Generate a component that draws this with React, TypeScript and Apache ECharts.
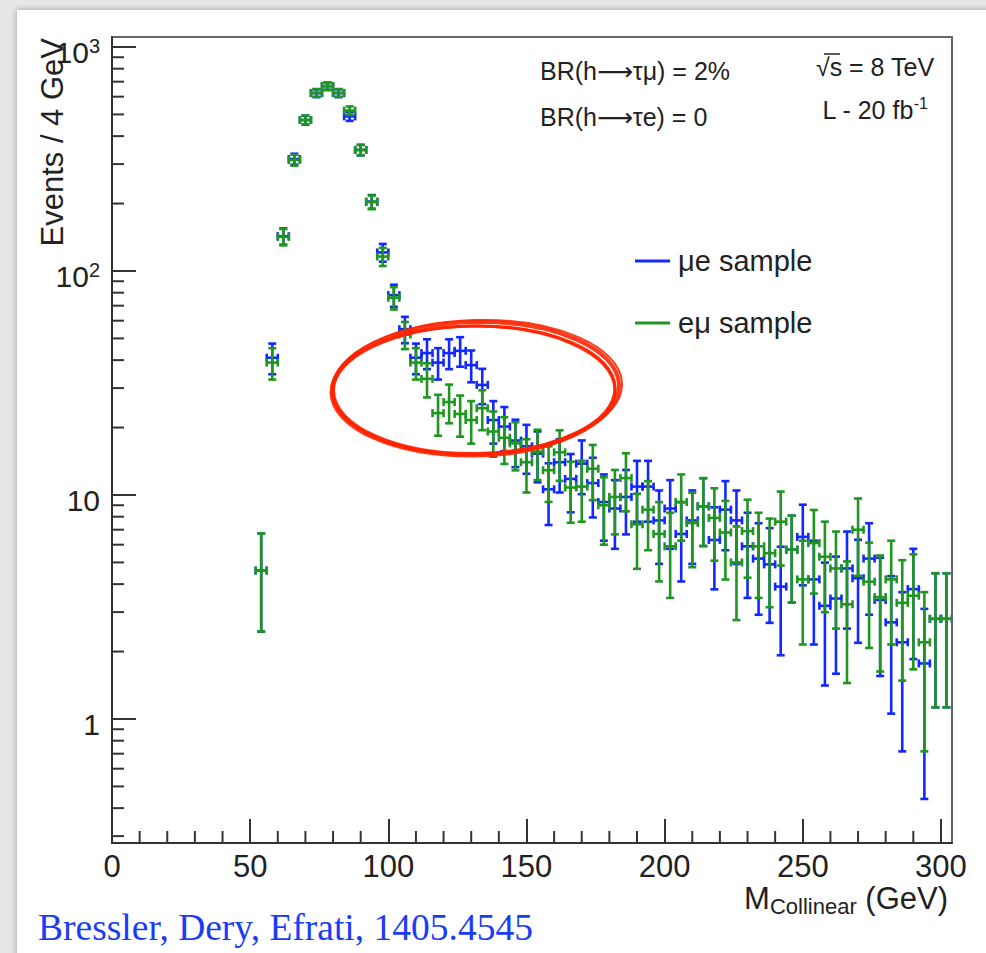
import React, { useEffect, useRef } from 'react';
import * as echarts from 'echarts';

// ---- data (bin centres in GeV, 4 GeV bins) ----
const BIN_HALF_WIDTH = 2;
const BIN_CENTERS = [
  54, 58, 62, 66, 70, 74, 78, 82, 86, 90, 94, 98, 102, 106, 110, 114, 118, 122, 126, 130,
  134, 138, 142, 146, 150, 154, 158, 162, 166, 170, 174, 178, 182, 186, 190, 194, 198, 202,
  206, 210, 214, 218, 222, 226, 230, 234, 238, 242, 246, 250, 254, 258, 262, 266, 270, 274,
  278, 282, 286, 290, 294, 298, 302,
];
// μe sample (blue)
const MU_E = [
  4.6, 41, 143, 316, 472, 622, 668, 622, 490, 347, 204, 121, 78, 55, 41, 43, 39, 43, 44, 38,
  31, 21.6, 20.2, 17.5, 16.5, 15.3, 10.6, 14.0, 11.8, 13.8, 11.3, 9.3, 8.7, 9.8, 10.9, 10.9, 7.7, 8.7,
  6.7, 7.7, 8.9, 6.3, 8.6, 7.7, 5.9, 5.2, 4.9, 3.9, 5.7, 6.5, 4.2, 3.2, 3.45, 4.7, 4.25, 5.2,
  3.4, 2.7, 2.2, 3.8, 1.77, 2.8, 2.8,
];
// eμ sample (green)
const E_MU = [
  4.6, 39, 142, 313, 472, 624, 670, 624, 520, 347, 203, 116, 76, 52, 39, 33, 23.2, 26, 23, 21.6,
  24.4, 19.2, 18, 17, 14, 15.6, 12.9, 15.5, 10.8, 10.9, 13.1, 9.0, 9.8, 11.9, 7.4, 8.6, 6.7, 5.9,
  9.3, 7.5, 8.9, 7.9, 6.8, 5.0, 6.9, 5.9, 5.5, 7.6, 5.7, 4.2, 6.1, 5.3, 4.7, 3.25, 7.0, 4.1,
  3.5, 4.2, 3.3, 3.55, 2.2, 2.8, 2.8,
];
const SERIES_NAMES = ['μe sample', 'eμ sample'];

// ---- axes ----
const X_MIN = 0;
const X_MAX = 304;
const X_INTERVAL = 50;
const X_MINOR_TICKS = [
  10, 20, 30, 40, 60, 70, 80, 90, 110, 120, 130, 140, 160, 170, 180, 190, 210, 220, 230, 240,
  260, 270, 280, 290,
];
const Y_MIN = 0.2795;
const Y_MAX = 1108;
const Y_MINOR_TICKS = [
  0.3, 0.4, 0.5, 0.6, 0.7, 0.8, 0.9, 2, 3, 4, 5, 6, 7, 8, 9, 20, 30, 40, 50, 60, 70, 80, 90,
  200, 300, 400, 500, 600, 700, 800, 900,
];

const BLUE = '#1228ff';
const GREEN = '#1f961f';
const AXIS = '#333333';
const TEXT = '#222222';
const SANS = '"Liberation Sans", Arial, Helvetica, sans-serif';
const ARROW_FONT = '"DejaVu Sans", "Liberation Sans", sans-serif';

function errorBarRenderer(color: string) {
  return (params: any, api: any) => {
    const x = api.value(0);
    const y = api.value(1);
    const e = api.value(2);
    const c = api.coord([x, y]);
    const l = api.coord([x - BIN_HALF_WIDTH, y]);
    const r = api.coord([x + BIN_HALF_WIDTH, y]);
    const t = api.coord([x, y + e]);
    const b = api.coord([x, Math.max(y - e, Y_MIN)]);
    const cap = 4;
    const style = { stroke: color, lineWidth: 2.6 };
    return {
      type: 'group',
      children: [
        { type: 'line', shape: { x1: c[0], y1: t[1], x2: c[0], y2: b[1] }, style },
        { type: 'line', shape: { x1: l[0], y1: c[1], x2: r[0], y2: c[1] }, style },
        { type: 'line', shape: { x1: c[0] - cap, y1: t[1], x2: c[0] + cap, y2: t[1] }, style },
        { type: 'line', shape: { x1: c[0] - cap, y1: b[1], x2: c[0] + cap, y2: b[1] }, style },
        { type: 'line', shape: { x1: l[0], y1: c[1] - cap, x2: l[0], y2: c[1] + cap }, style },
        { type: 'line', shape: { x1: r[0], y1: c[1] - cap, x2: r[0], y2: c[1] + cap }, style },
      ],
    };
  };
}

export default function App() {
  const ref = useRef<HTMLDivElement>(null);
  useEffect(() => {
    if (!ref.current) return;
    const chart = echarts.init(ref.current, null, { renderer: 'svg' });

    const blueData = BIN_CENTERS.map((x, i) => [x, MU_E[i], Math.sqrt(MU_E[i])]);
    const greenData = BIN_CENTERS.map((x, i) => [x, E_MU[i], Math.sqrt(E_MU[i])]);

    const yFormatter = (v: number) => {
      const e = Math.round(Math.log10(v));
      if (e >= 2) return `{b|10}{s|${e}}`;
      return `{b|${Math.round(v)}}`;
    };

    const brRich = {
      t: { fontSize: 25, lineHeight: 30, fontFamily: SANS, fill: TEXT },
      a: { fontSize: 25, lineHeight: 30, fontFamily: ARROW_FONT, fill: TEXT },
    };

    const option: any = {
      animation: false,
      backgroundColor: '#e7e7e5',
      grid: {
        left: 112,
        top: 37,
        right: 34,
        bottom: 110,
        show: true,
        borderColor: '#666666',
        borderWidth: 2,
        outerBoundsMode: 'none',
        containLabel: false,
      },
      xAxis: {
        type: 'value',
        min: X_MIN,
        max: X_MAX,
        interval: X_INTERVAL,
        axisLine: { show: true, onZero: false, lineStyle: { color: AXIS, width: 2 } },
        axisTick: { show: true, inside: true, length: 24, lineStyle: { color: AXIS, width: 2 } },
        minorTick: { show: false },
        splitLine: { show: false },
        axisLabel: {
          showMaxLabel: false,
          showMinLabel: true,
          margin: 8,
          fontSize: 31,
          lineHeight: 31,
          fontFamily: SANS,
          color: TEXT,
        },
      },
      yAxis: {
        type: 'log',
        logBase: 10,
        min: Y_MIN,
        max: Y_MAX,
        axisLine: { show: true, onZero: false, lineStyle: { color: AXIS, width: 2 } },
        axisTick: { show: true, inside: true, length: 24, lineStyle: { color: AXIS, width: 2 } },
        minorTick: { show: false },
        splitLine: { show: false },
        axisLabel: {
          showMinLabel: false,
          showMaxLabel: false,
          margin: 12,
          formatter: yFormatter,
          padding: [12, 0, 0, 0],
          rich: {
            b: { fontSize: 30, lineHeight: 34, fontFamily: SANS, color: TEXT },
            s: { fontSize: 20, lineHeight: 20, verticalAlign: 'top', fontFamily: SANS, color: TEXT },
          },
        },
      },
      legend: {
        data: SERIES_NAMES,
        orient: 'vertical',
        left: 630,
        top: 240,
        icon: 'rect',
        itemWidth: 35,
        itemHeight: 3,
        itemGap: 30,
        selectedMode: false,
        textStyle: {
          fontSize: 29,
          lineHeight: 32,
          fontFamily: SANS,
          color: TEXT,
          padding: [0, 0, 0, 3],
        },
      },
      series: [
        {
          name: 'xMinorTicks',
          type: 'custom',
          silent: true,
          clip: false,
          data: X_MINOR_TICKS.map((v) => [v, Y_MIN]),
          encode: { x: 0, y: 1 },
          renderItem: (params: any, api: any) => {
            const p = api.coord([api.value(0), Y_MIN]);
            return {
              type: 'line',
              shape: { x1: p[0], y1: p[1], x2: p[0], y2: p[1] - 12 },
              style: { stroke: AXIS, lineWidth: 2 },
            };
          },
        },
        {
          name: 'yMinorTicks',
          type: 'custom',
          silent: true,
          clip: false,
          data: Y_MINOR_TICKS.map((v) => [X_MIN, v]),
          encode: { x: 0, y: 1 },
          renderItem: (params: any, api: any) => {
            const p = api.coord([X_MIN, api.value(1)]);
            return {
              type: 'line',
              shape: { x1: p[0], y1: p[1], x2: p[0] + 12, y2: p[1] },
              style: { stroke: AXIS, lineWidth: 2 },
            };
          },
        },
        {
          name: SERIES_NAMES[0],
          type: 'custom',
          clip: true,
          itemStyle: { color: BLUE },
          data: blueData,
          encode: { x: 0, y: 1 },
          renderItem: errorBarRenderer(BLUE),
          z: 3,
        },
        {
          name: SERIES_NAMES[1],
          type: 'custom',
          clip: true,
          itemStyle: { color: GREEN },
          data: greenData,
          encode: { x: 0, y: 1 },
          renderItem: errorBarRenderer(GREEN),
          z: 4,
        },
      ],
      graphic: [
        {
          type: 'rect',
          z: -10,
          silent: true,
          shape: { x: 17, y: 10, width: 975, height: 950 },
          style: { fill: '#ffffff', shadowBlur: 6, shadowColor: 'rgba(0,0,0,0.35)' },
        },
        {
          type: 'text',
          z: 10,
          x: 52,
          y: 38,
          rotation: Math.PI / 2,
          style: {
            text: 'Events / 4 GeV',
            font: `31px ${SANS}`,
            fill: TEXT,
            textAlign: 'right',
            textVerticalAlign: 'middle',
          },
        },
        {
          type: 'text',
          z: 10,
          x: 948,
          y: 898,
          style: {
            text: '{m|M}{sub|Collinear}{m| (GeV)}',
            textAlign: 'right',
            textVerticalAlign: 'middle',
            rich: {
              m: { fontSize: 31, lineHeight: 38, fontFamily: SANS, fill: TEXT },
              sub: { fontSize: 22, lineHeight: 16, verticalAlign: 'bottom', fontFamily: SANS, fill: TEXT },
            },
          },
        },
        {
          type: 'text',
          z: 10,
          x: 540,
          y: 71,
          style: {
            text: '{t|BR(h}{a|⟶}{t|τμ) = 2%}',
            textAlign: 'left',
            textVerticalAlign: 'middle',
            rich: brRich,
          },
        },
        {
          type: 'text',
          z: 10,
          x: 540,
          y: 117,
          style: {
            text: '{t|BR(h}{a|⟶}{t|τe) = 0}',
            textAlign: 'left',
            textVerticalAlign: 'middle',
            rich: brRich,
          },
        },
        {
          type: 'text',
          z: 10,
          x: 875,
          y: 67,
          style: {
            text: '√s = 8 TeV',
            font: `25px ${SANS}`,
            fill: TEXT,
            textAlign: 'center',
            textVerticalAlign: 'middle',
          },
        },
        {
          type: 'line',
          z: 10,
          shape: { x1: 824, y1: 54, x2: 840, y2: 54 },
          style: { stroke: TEXT, lineWidth: 1.5 },
        },
        {
          type: 'text',
          z: 10,
          x: 875,
          y: 110,
          style: {
            text: '{n|L - 20 fb}{s|-1}',
            textAlign: 'center',
            textVerticalAlign: 'middle',
            rich: {
              n: { fontSize: 25, lineHeight: 30, fontFamily: SANS, fill: TEXT },
              s: { fontSize: 16, lineHeight: 16, verticalAlign: 'top', fontFamily: SANS, fill: TEXT },
            },
          },
        },
        // hand-drawn red ellipse
        ...[
          { rx: 143, ry: 66, r: 0.02, w: 4, dx: 0, dy: 0 },
          { rx: 141, ry: 64, r: 0.015, w: 3, dx: -2, dy: 2 },
          { rx: 145, ry: 67, r: 0.025, w: 2, dx: 1, dy: -1 },
          { rx: 142, ry: 65, r: 0.01, w: 3, dx: -3, dy: 3 },
        ].map((e) => ({
          type: 'ellipse',
          z: 20,
          silent: true,
          x: 476 + e.dx,
          y: 388 + e.dy,
          rotation: e.r,
          shape: { cx: 0, cy: 0, rx: e.rx, ry: e.ry },
          style: { fill: 'none', stroke: '#ff2400', lineWidth: e.w, opacity: 0.9 },
        })),
        {
          type: 'text',
          z: 10,
          x: 38,
          y: 927,
          style: {
            text: 'Bressler, Dery, Efrati, 1405.4545',
            font: `37.5px "Liberation Serif", "Times New Roman", serif`,
            fill: '#1b3cf5',
            textAlign: 'left',
            textVerticalAlign: 'middle',
          },
        },
      ],
    };

    chart.setOption(option);
    return () => chart.dispose();
  }, []);

  return (
    <div
      ref={ref}
      style={{ position: 'fixed', left: 0, top: 0, width: 986, height: 953 }}
    />
  );
}
